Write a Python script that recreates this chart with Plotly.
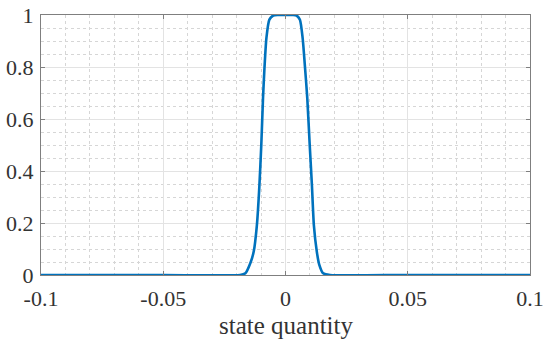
import plotly.graph_objects as go

# curve (state quantity vs membership value)
state_x = [-0.1, -0.05, -0.0186, -0.0164, -0.0144, -0.0130, -0.0117, -0.0107,
           -0.0099, -0.0092, -0.0086, -0.0078, -0.0066, -0.0050, -0.0030, 0.0,
           0.0030, 0.0045, 0.0059, 0.0070, 0.0080, 0.0089, 0.0099, 0.0108,
           0.0116, 0.0128, 0.0138, 0.0154, 0.0182, 0.05, 0.1]
membership = [0.0, 0.0, 0.0, 0.0065, 0.045, 0.090, 0.192, 0.34,
              0.50, 0.68, 0.796, 0.912, 0.982, 0.998, 1.0, 1.0,
              1.0, 0.998, 0.982, 0.912, 0.796, 0.681, 0.50, 0.346,
              0.192, 0.090, 0.040, 0.0065, 0.0, 0.0, 0.0]

x_ticks = [-0.1, -0.05, 0, 0.05, 0.1]
x_labels = ["-0.1", "-0.05", "0", "0.05", "0.1"]
y_ticks = [0, 0.2, 0.4, 0.6, 0.8, 1]
y_labels = ["0", "0.2", "0.4", "0.6", "0.8", "1"]

FONT = "Liberation Serif"
AXIS_COLOR = "#7f7f7f"
TEXT_COLOR = "#333333"
GRID_MAJOR = "#e3e3e3"
GRID_MINOR = "#d6d6d6"

fig = go.Figure()
fig.add_trace(go.Scatter(
    x=state_x,
    y=membership,
    mode="lines",
    line=dict(color="#0072BD", width=2.6, shape="spline", smoothing=0.6),
    cliponaxis=False,
    showlegend=False,
))

axis_common = dict(
    showline=True,
    linecolor=AXIS_COLOR,
    linewidth=1,
    mirror="ticks",
    ticks="inside",
    ticklen=4,
    tickcolor=AXIS_COLOR,
    showgrid=True,
    gridcolor=GRID_MAJOR,
    gridwidth=1,
    zeroline=False,
    automargin=False,
    tickfont=dict(family=FONT, size=22, color=TEXT_COLOR),
)

fig.update_layout(
    width=550,
    height=347,
    margin=dict(l=41, r=20, t=15, b=72),
    paper_bgcolor="white",
    plot_bgcolor="white",
    font=dict(family=FONT, color=TEXT_COLOR),
    xaxis=dict(
        axis_common,
        range=[-0.1, 0.1],
        tickmode="array",
        tickvals=x_ticks,
        ticktext=x_labels,
        ticklabelstandoff=4,
        minor=dict(dtick=0.01, showgrid=True, gridcolor=GRID_MINOR, griddash="dot", ticks=""),
    ),
    yaxis=dict(
        axis_common,
        range=[0, 1],
        tickmode="array",
        tickvals=y_ticks,
        ticktext=y_labels,
        ticklabelstandoff=2,
        minor=dict(dtick=0.05, showgrid=True, gridcolor=GRID_MINOR, griddash="dot", ticks=""),
    ),
)

# axis title placed below the tick labels, as in the reference
fig.add_annotation(
    text="state quantity",
    xref="x domain", yref="paper",
    x=0.5, y=0, yshift=-50,
    xanchor="center", yanchor="middle",
    showarrow=False,
    font=dict(family=FONT, size=25, color=TEXT_COLOR),
)

# drop the default page margin so the figure sits at the window's corner
fig.write_html(
    "out.html",
    config={"displayModeBar": False},
    post_script="document.body.style.margin='0px';",
)
